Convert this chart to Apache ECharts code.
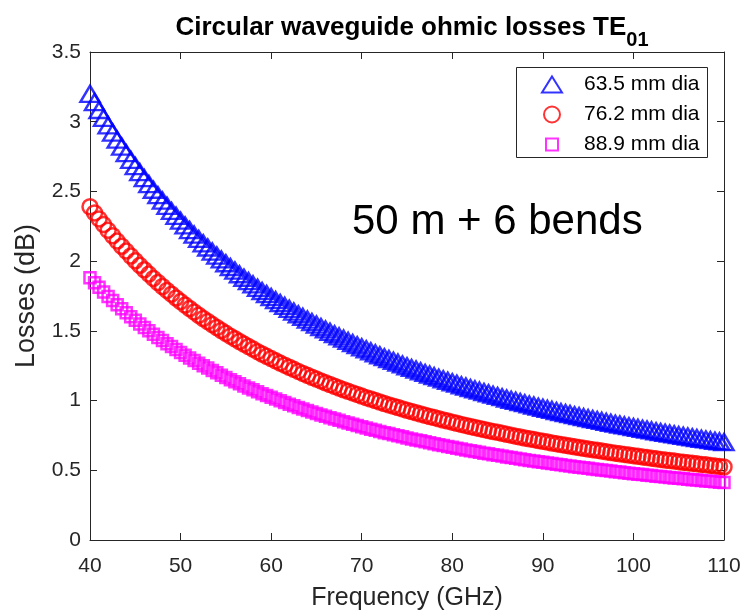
<!DOCTYPE html>
<html>
<head>
<meta charset="utf-8">
<script src="https://cdn.jsdelivr.net/npm/echarts@6/dist/echarts.min.js"></script>
<style>
  html, body { margin: 0; padding: 0; background: #fff; }
  #main { width: 743px; height: 612px; }
</style>
</head>
<body>
<div id="main"></div>
<script>
// frequency points (GHz)
var freqs = [40,40.5,41,41.5,42,42.5,43,43.5,44,44.5,45,45.5,46,46.5,47,47.5,48,48.5,49,49.5,
  50,50.5,51,51.5,52,52.5,53,53.5,54,54.5,55,55.5,56,56.5,57,57.5,58,58.5,59,59.5,
  60,60.5,61,61.5,62,62.5,63,63.5,64,64.5,65,65.5,66,66.5,67,67.5,68,68.5,69,69.5,
  70,70.5,71,71.5,72,72.5,73,73.5,74,74.5,75,75.5,76,76.5,77,77.5,78,78.5,79,79.5,
  80,80.5,81,81.5,82,82.5,83,83.5,84,84.5,85,85.5,86,86.5,87,87.5,88,88.5,89,89.5,
  90,90.5,91,91.5,92,92.5,93,93.5,94,94.5,95,95.5,96,96.5,97,97.5,98,98.5,99,99.5,
  100,100.5,101,101.5,102,102.5,103,103.5,104,104.5,105,105.5,106,106.5,107,107.5,108,108.5,109,109.5,110];

// losses (dB), 63.5 mm dia
var loss635 = [3.200,3.141,3.084,3.028,2.974,2.922,2.871,2.822,2.774,2.727,2.682,2.638,2.595,2.553,2.512,2.473,2.434,2.397,2.360,2.325,
  2.290,2.256,2.223,2.190,2.159,2.128,2.098,2.069,2.040,2.012,1.985,1.958,1.932,1.906,1.881,1.857,1.833,1.809,1.786,1.764,
  1.742,1.720,1.699,1.679,1.658,1.638,1.619,1.600,1.581,1.563,1.545,1.527,1.510,1.493,1.476,1.460,1.444,1.428,1.412,1.397,
  1.382,1.368,1.353,1.339,1.325,1.311,1.298,1.285,1.272,1.259,1.246,1.234,1.222,1.210,1.198,1.187,1.175,1.164,1.153,1.142,
  1.131,1.121,1.110,1.100,1.090,1.080,1.071,1.061,1.052,1.042,1.033,1.024,1.015,1.006,0.998,0.989,0.981,0.972,0.964,0.956,
  0.948,0.940,0.933,0.925,0.917,0.910,0.903,0.895,0.888,0.881,0.874,0.867,0.861,0.854,0.847,0.841,0.834,0.828,0.822,0.816,
  0.810,0.804,0.798,0.792,0.786,0.780,0.774,0.769,0.763,0.758,0.752,0.747,0.742,0.737,0.731,0.726,0.721,0.716,0.711,0.707,0.702];

// losses (dB), 76.2 mm dia
var loss762 = [2.390,2.346,2.303,2.262,2.221,2.182,2.144,2.107,2.072,2.037,2.003,1.970,1.938,1.907,1.876,1.847,1.818,1.790,1.763,1.736,
  1.710,1.685,1.660,1.636,1.612,1.589,1.567,1.545,1.524,1.503,1.482,1.462,1.443,1.424,1.405,1.387,1.369,1.351,1.334,1.317,
  1.301,1.285,1.269,1.254,1.239,1.224,1.209,1.195,1.181,1.167,1.154,1.141,1.128,1.115,1.103,1.090,1.078,1.066,1.055,1.044,
  1.032,1.021,1.011,1.000,0.990,0.979,0.969,0.960,0.950,0.940,0.931,0.922,0.913,0.904,0.895,0.886,0.878,0.869,0.861,0.853,
  0.845,0.837,0.829,0.822,0.814,0.807,0.800,0.792,0.785,0.778,0.772,0.765,0.758,0.752,0.745,0.739,0.732,0.726,0.720,0.714,
  0.708,0.702,0.696,0.691,0.685,0.680,0.674,0.669,0.663,0.658,0.653,0.648,0.643,0.638,0.633,0.628,0.623,0.619,0.614,0.609,
  0.605,0.600,0.596,0.591,0.587,0.583,0.578,0.574,0.570,0.566,0.562,0.558,0.554,0.550,0.546,0.542,0.539,0.535,0.531,0.528,0.524];

// losses (dB), 88.9 mm dia
var loss889 = [1.880,1.845,1.812,1.779,1.747,1.717,1.687,1.658,1.630,1.602,1.576,1.550,1.524,1.500,1.476,1.453,1.430,1.408,1.387,1.366,
  1.345,1.325,1.306,1.287,1.268,1.250,1.233,1.215,1.199,1.182,1.166,1.150,1.135,1.120,1.105,1.091,1.077,1.063,1.049,1.036,
  1.023,1.011,0.998,0.986,0.974,0.963,0.951,0.940,0.929,0.918,0.908,0.897,0.887,0.877,0.867,0.858,0.848,0.839,0.830,0.821,
  0.812,0.803,0.795,0.787,0.778,0.770,0.763,0.755,0.747,0.740,0.732,0.725,0.718,0.711,0.704,0.697,0.690,0.684,0.677,0.671,
  0.665,0.658,0.652,0.646,0.641,0.635,0.629,0.623,0.618,0.612,0.607,0.602,0.596,0.591,0.586,0.581,0.576,0.571,0.566,0.562,
  0.557,0.552,0.548,0.543,0.539,0.535,0.530,0.526,0.522,0.518,0.514,0.510,0.506,0.502,0.498,0.494,0.490,0.487,0.483,0.479,
  0.476,0.472,0.469,0.465,0.462,0.458,0.455,0.452,0.448,0.445,0.442,0.439,0.436,0.433,0.430,0.427,0.424,0.421,0.418,0.415,0.412];

var seriesNames = ['63.5 mm dia', '76.2 mm dia', '88.9 mm dia'];
var xTicks = [40, 50, 60, 70, 80, 90, 100, 110];
var yTicks = [0, 0.5, 1, 1.5, 2, 2.5, 3, 3.5];

function pairs(ys) {
  var out = [];
  for (var i = 0; i < freqs.length; i++) out.push([freqs[i], ys[i]]);
  return out;
}

var FONT = '"Liberation Sans", Arial, Helvetica, sans-serif';
var AXC = '#262626';

var chart = echarts.init(document.getElementById('main'), null, { renderer: 'canvas' });

var axisCommon = {
  axisLine: { show: true, onZero: false, lineStyle: { color: AXC, width: 1 } },
  axisTick: { show: true, inside: true, length: 7, lineStyle: { color: AXC, width: 1 } },
  splitLine: { show: false }
};

var option = {
  animation: false,
  backgroundColor: '#fff',
  title: {
    text: '{t|Circular waveguide ohmic losses TE}{s|01}',
    left: 407,
    textAlign: 'center',
    top: 10,
    textStyle: {
      rich: {
        t: { fontFamily: FONT, fontSize: 26, fontWeight: 'bold', color: '#000', lineHeight: 30, verticalAlign: 'top' },
        s: { fontFamily: FONT, fontSize: 20, fontWeight: 'bold', color: '#000', lineHeight: 22, padding: [15, 0, 0, 0], verticalAlign: 'top' }
      }
    }
  },
  grid: { left: 90, right: 19, top: 52, bottom: 72, containLabel: false, outerBoundsMode: 'none' },
  legend: [
    {
      data: [seriesNames[0]], left: 541, top: 74, padding: 0, itemWidth: 20, itemHeight: 16,
      symbolKeepAspect: false,
      textStyle: { fontFamily: FONT, fontSize: 21, color: '#000', padding: [0, 0, 0, 17] }
    },
    {
      data: [seriesNames[1]], left: 543, top: 104, padding: 0, itemWidth: 16, itemHeight: 16,
      textStyle: { fontFamily: FONT, fontSize: 21, color: '#000', padding: [0, 0, 0, 19] }
    },
    {
      data: [seriesNames[2]], left: 545, top: 134, padding: 0, itemWidth: 12, itemHeight: 12,
      textStyle: { fontFamily: FONT, fontSize: 21, color: '#000', padding: [0, 0, 0, 21] }
    }
  ],
  xAxis: [
    Object.assign({}, axisCommon, {
      type: 'value', min: xTicks[0], max: xTicks[xTicks.length - 1], interval: 10, position: 'bottom',
      name: 'Frequency (GHz)', nameLocation: 'middle', nameGap: 46,
      nameTextStyle: { fontFamily: FONT, fontSize: 25, color: AXC },
      axisLabel: { fontFamily: FONT, fontSize: 21, color: AXC, margin: 16 }
    }),
    Object.assign({}, axisCommon, {
      type: 'value', min: xTicks[0], max: xTicks[xTicks.length - 1], interval: 10, position: 'top',
      axisLabel: { show: false }
    })
  ],
  yAxis: [
    Object.assign({}, axisCommon, {
      type: 'value', min: yTicks[0], max: yTicks[yTicks.length - 1], interval: 0.5, position: 'left',
      name: 'Losses (dB)', nameLocation: 'middle', nameGap: 50,
      nameTextStyle: { fontFamily: FONT, fontSize: 27, color: AXC },
      axisLabel: { fontFamily: FONT, fontSize: 21, color: AXC, margin: 9 }
    }),
    Object.assign({}, axisCommon, {
      type: 'value', min: yTicks[0], max: yTicks[yTicks.length - 1], interval: 0.5, position: 'right',
      axisLabel: { show: false }
    })
  ],
  graphic: [
    {
      type: 'rect', left: 516, top: 67, z: 1,
      shape: { width: 191, height: 90 },
      style: { fill: '#fff', stroke: AXC, lineWidth: 1 }
    },
    {
      type: 'text', left: 352, top: 201,
      style: { text: '50 m + 6 bends', font: '42px ' + FONT, fill: '#000' }
    }
  ],
  series: [
    {
      name: seriesNames[0], type: 'scatter', data: pairs(loss635), clip: false,
      symbol: 'triangle', symbolSize: [19, 16],
      itemStyle: { color: 'rgba(0,0,0,0)', borderColor: '#0000ff', borderWidth: 2.5 },
      emphasis: { disabled: true }
    },
    {
      name: seriesNames[1], type: 'scatter', data: pairs(loss762), clip: false,
      symbol: 'circle', symbolSize: 15,
      itemStyle: { color: 'rgba(0,0,0,0)', borderColor: '#ff0000', borderWidth: 2.5 },
      emphasis: { disabled: true }
    },
    {
      name: seriesNames[2], type: 'scatter', data: pairs(loss889), clip: false,
      symbol: 'rect', symbolSize: 11,
      itemStyle: { color: 'rgba(0,0,0,0)', borderColor: '#ff00ff', borderWidth: 2.5 },
      emphasis: { disabled: true }
    }
  ]
};

chart.setOption(option);
</script>
</body>
</html>
